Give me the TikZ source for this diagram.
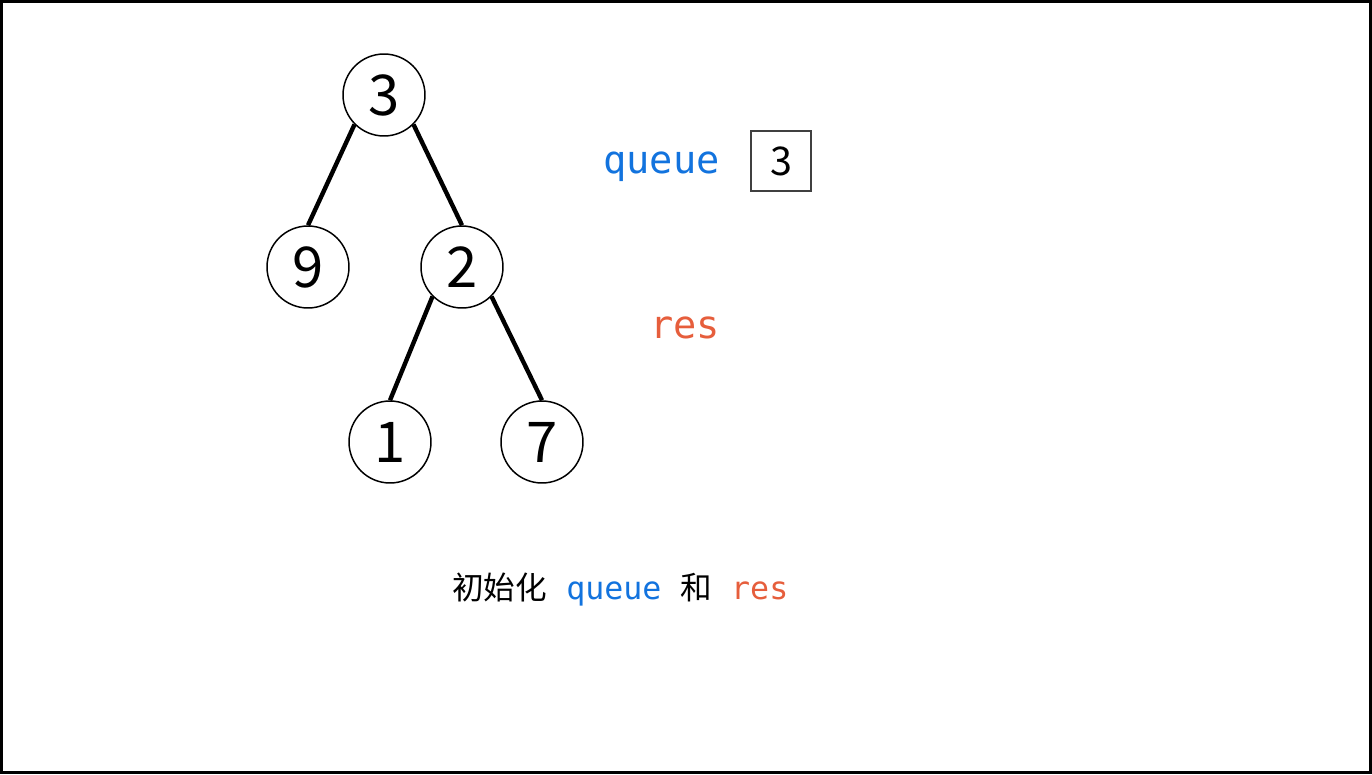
\documentclass[tikz,border=0pt]{standalone}
\usepackage{fontspec}
\setmainfont{Noto Sans CJK SC}
\setmonofont{DejaVu Sans Mono}
\usepackage{tikz}
\usetikzlibrary{positioning}
\definecolor{queueblue}{HTML}{1273DE}
\definecolor{resred}{HTML}{E65E3C}

\begin{document}
\begin{tikzpicture}[x=0.02cm,y=-0.02cm,
    treenode/.style={draw,shape=circle,minimum size=1.64cm,inner sep=0,line width=0.85pt,font=\fontsize{32}{32}\selectfont},
    treeedge/.style={line width=2.5pt},
    cell/.style={draw=black!75,minimum size=1.2cm,inner sep=0,line width=1.1pt,font=\fontsize{22.5}{22.5}\selectfont},
    label/.style={anchor=base west,inner sep=0,font=\fontsize{22}{24}\ttfamily}]
  % frame
  \useasboundingbox (0,0) rectangle (1372,774);
  \draw[line width=1.7pt] (1.5,1.5) rectangle (1370.5,772.5);
  % the tree
  \node[treenode] (n3) at (384,95) {3};
  \node[treenode] (n9) at (308,267) {9};
  \node[treenode] (n2) at (462,267) {2};
  \node[treenode] (n1) at (390,442) {1};
  \node[treenode] (n7) at (542,442) {7};
  \draw[treeedge] (n3.south west) -- (n9.north);
  \draw[treeedge] (n3.south east) -- (n2.north);
  \draw[treeedge] (n2.south west) -- (n1.north);
  \draw[treeedge] (n2.south east) -- (n7.north);
  % queue and res
  \node[label,queueblue] (queue) at (603,173) {queue};
  \node[cell] (q0) at (781,161) {3};
  \node[label,resred] (res) at (650,338) {res};
  % caption
  \node[anchor=base west,inner sep=0,font=\fontsize{18}{20}\selectfont] (caption) at (452,599)
    {初始化\texttt{\color{queueblue}\ queue\ }和\texttt{\color{resred}\ res}};
\end{tikzpicture}
\end{document}
